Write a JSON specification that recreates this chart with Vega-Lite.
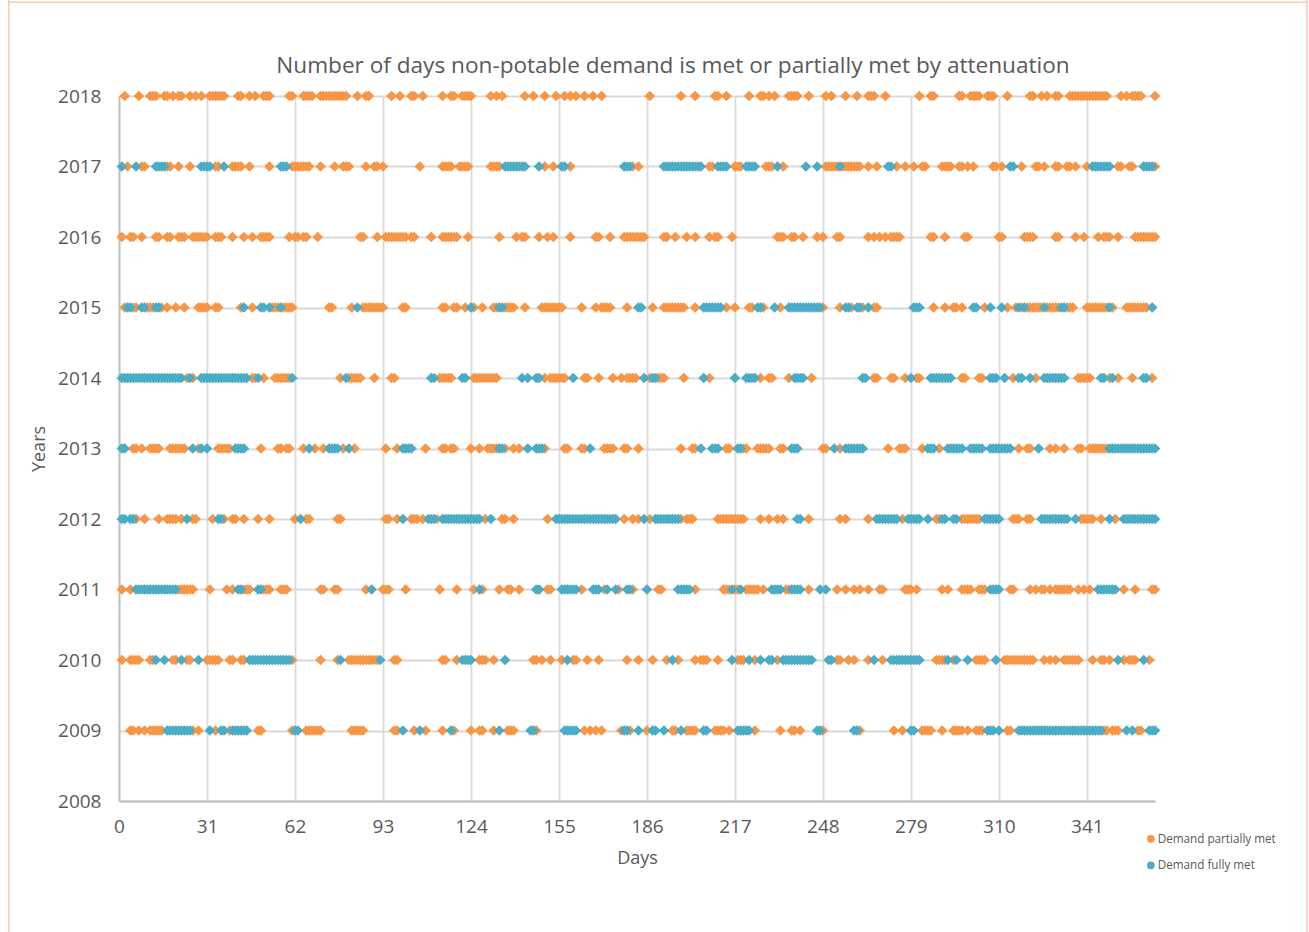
{"$schema":"https://vega.github.io/schema/vega-lite/v6.json","width":1036,"height":705,"autosize":{"type":"none"},"padding":{"left":119,"top":96,"right":154,"bottom":131},"background":"white",
"title":{"text":"Number of days non-potable demand is met or partially met by attenuation","font":"Open Sans","fontSize":22.6,"fontWeight":"normal","color":"#595959","anchor":"middle","frame":"group","dx":36,"offset":-78},
"config":{"view":{"stroke":null}},
"layer":[
{"data":{"values":[
{"d":2,"y":2018,"s":"P"},{"d":7,"y":2018,"s":"P"},{"d":11,"y":2018,"s":"P"},{"d":12,"y":2018,"s":"P"},{"d":13,"y":2018,"s":"P"},{"d":16,"y":2018,"s":"P"},{"d":17,"y":2018,"s":"P"},{"d":19,"y":2018,"s":"P"},{"d":21,"y":2018,"s":"P"},{"d":22,"y":2018,"s":"P"},{"d":25,"y":2018,"s":"P"},{"d":27,"y":2018,"s":"P"},{"d":29,"y":2018,"s":"P"},{"d":32,"y":2018,"s":"P"},{"d":33,"y":2018,"s":"P"},{"d":34,"y":2018,"s":"P"},{"d":35,"y":2018,"s":"P"},{"d":36,"y":2018,"s":"P"},{"d":37,"y":2018,"s":"P"},{"d":42,"y":2018,"s":"P"},{"d":43,"y":2018,"s":"P"},{"d":46,"y":2018,"s":"P"},{"d":48,"y":2018,"s":"P"},{"d":51,"y":2018,"s":"P"},{"d":52,"y":2018,"s":"P"},{"d":53,"y":2018,"s":"P"},{"d":60,"y":2018,"s":"P"},{"d":61,"y":2018,"s":"P"},{"d":65,"y":2018,"s":"P"},{"d":66,"y":2018,"s":"P"},{"d":67,"y":2018,"s":"P"},{"d":68,"y":2018,"s":"P"},{"d":71,"y":2018,"s":"P"},{"d":72,"y":2018,"s":"P"},{"d":73,"y":2018,"s":"P"},{"d":74,"y":2018,"s":"P"},{"d":75,"y":2018,"s":"P"},{"d":76,"y":2018,"s":"P"},{"d":77,"y":2018,"s":"P"},{"d":78,"y":2018,"s":"P"},{"d":79,"y":2018,"s":"P"},{"d":80,"y":2018,"s":"P"},{"d":84,"y":2018,"s":"P"},{"d":87,"y":2018,"s":"P"},{"d":88,"y":2018,"s":"P"},{"d":96,"y":2018,"s":"P"},{"d":99,"y":2018,"s":"P"},{"d":103,"y":2018,"s":"P"},{"d":104,"y":2018,"s":"P"},{"d":107,"y":2018,"s":"P"},{"d":114,"y":2018,"s":"P"},{"d":117,"y":2018,"s":"P"},{"d":118,"y":2018,"s":"P"},{"d":121,"y":2018,"s":"P"},{"d":122,"y":2018,"s":"P"},{"d":123,"y":2018,"s":"P"},{"d":124,"y":2018,"s":"P"},{"d":131,"y":2018,"s":"P"},{"d":133,"y":2018,"s":"P"},{"d":135,"y":2018,"s":"P"},{"d":143,"y":2018,"s":"P"},{"d":146,"y":2018,"s":"P"},{"d":150,"y":2018,"s":"P"},{"d":154,"y":2018,"s":"P"},{"d":157,"y":2018,"s":"P"},{"d":159,"y":2018,"s":"P"},{"d":161,"y":2018,"s":"P"},{"d":164,"y":2018,"s":"P"},{"d":167,"y":2018,"s":"P"},{"d":170,"y":2018,"s":"P"},{"d":187,"y":2018,"s":"P"},{"d":198,"y":2018,"s":"P"},{"d":203,"y":2018,"s":"P"},{"d":210,"y":2018,"s":"P"},{"d":211,"y":2018,"s":"P"},{"d":214,"y":2018,"s":"P"},{"d":222,"y":2018,"s":"P"},{"d":226,"y":2018,"s":"P"},{"d":227,"y":2018,"s":"P"},{"d":229,"y":2018,"s":"P"},{"d":231,"y":2018,"s":"P"},{"d":236,"y":2018,"s":"P"},{"d":237,"y":2018,"s":"P"},{"d":238,"y":2018,"s":"P"},{"d":239,"y":2018,"s":"P"},{"d":243,"y":2018,"s":"P"},{"d":249,"y":2018,"s":"P"},{"d":251,"y":2018,"s":"P"},{"d":256,"y":2018,"s":"P"},{"d":260,"y":2018,"s":"P"},{"d":264,"y":2018,"s":"P"},{"d":265,"y":2018,"s":"P"},{"d":266,"y":2018,"s":"P"},{"d":270,"y":2018,"s":"P"},{"d":282,"y":2018,"s":"P"},{"d":286,"y":2018,"s":"P"},{"d":287,"y":2018,"s":"P"},{"d":296,"y":2018,"s":"P"},{"d":297,"y":2018,"s":"P"},{"d":300,"y":2018,"s":"P"},{"d":301,"y":2018,"s":"P"},{"d":302,"y":2018,"s":"P"},{"d":303,"y":2018,"s":"P"},{"d":306,"y":2018,"s":"P"},{"d":307,"y":2018,"s":"P"},{"d":308,"y":2018,"s":"P"},{"d":313,"y":2018,"s":"P"},{"d":321,"y":2018,"s":"P"},{"d":322,"y":2018,"s":"P"},{"d":325,"y":2018,"s":"P"},{"d":327,"y":2018,"s":"P"},{"d":330,"y":2018,"s":"P"},{"d":331,"y":2018,"s":"P"},{"d":335,"y":2018,"s":"P"},{"d":336,"y":2018,"s":"P"},{"d":337,"y":2018,"s":"P"},{"d":338,"y":2018,"s":"P"},{"d":339,"y":2018,"s":"P"},{"d":340,"y":2018,"s":"P"},{"d":341,"y":2018,"s":"P"},{"d":342,"y":2018,"s":"P"},{"d":343,"y":2018,"s":"P"},{"d":344,"y":2018,"s":"P"},{"d":345,"y":2018,"s":"P"},{"d":346,"y":2018,"s":"P"},{"d":347,"y":2018,"s":"P"},{"d":348,"y":2018,"s":"P"},{"d":353,"y":2018,"s":"P"},{"d":355,"y":2018,"s":"P"},{"d":357,"y":2018,"s":"P"},{"d":358,"y":2018,"s":"P"},{"d":359,"y":2018,"s":"P"},{"d":360,"y":2018,"s":"P"},{"d":365,"y":2018,"s":"P"},
{"d":3,"y":2017,"s":"P"},{"d":8,"y":2017,"s":"P"},{"d":9,"y":2017,"s":"P"},{"d":17,"y":2017,"s":"P"},{"d":18,"y":2017,"s":"P"},{"d":21,"y":2017,"s":"P"},{"d":25,"y":2017,"s":"P"},{"d":34,"y":2017,"s":"P"},{"d":35,"y":2017,"s":"P"},{"d":40,"y":2017,"s":"P"},{"d":41,"y":2017,"s":"P"},{"d":42,"y":2017,"s":"P"},{"d":43,"y":2017,"s":"P"},{"d":46,"y":2017,"s":"P"},{"d":53,"y":2017,"s":"P"},{"d":61,"y":2017,"s":"P"},{"d":62,"y":2017,"s":"P"},{"d":63,"y":2017,"s":"P"},{"d":64,"y":2017,"s":"P"},{"d":65,"y":2017,"s":"P"},{"d":66,"y":2017,"s":"P"},{"d":67,"y":2017,"s":"P"},{"d":71,"y":2017,"s":"P"},{"d":76,"y":2017,"s":"P"},{"d":79,"y":2017,"s":"P"},{"d":80,"y":2017,"s":"P"},{"d":81,"y":2017,"s":"P"},{"d":87,"y":2017,"s":"P"},{"d":90,"y":2017,"s":"P"},{"d":91,"y":2017,"s":"P"},{"d":93,"y":2017,"s":"P"},{"d":106,"y":2017,"s":"P"},{"d":114,"y":2017,"s":"P"},{"d":115,"y":2017,"s":"P"},{"d":116,"y":2017,"s":"P"},{"d":117,"y":2017,"s":"P"},{"d":120,"y":2017,"s":"P"},{"d":121,"y":2017,"s":"P"},{"d":122,"y":2017,"s":"P"},{"d":123,"y":2017,"s":"P"},{"d":131,"y":2017,"s":"P"},{"d":132,"y":2017,"s":"P"},{"d":133,"y":2017,"s":"P"},{"d":134,"y":2017,"s":"P"},{"d":150,"y":2017,"s":"P"},{"d":153,"y":2017,"s":"P"},{"d":159,"y":2017,"s":"P"},{"d":181,"y":2017,"s":"P"},{"d":183,"y":2017,"s":"P"},{"d":208,"y":2017,"s":"P"},{"d":209,"y":2017,"s":"P"},{"d":217,"y":2017,"s":"P"},{"d":218,"y":2017,"s":"P"},{"d":219,"y":2017,"s":"P"},{"d":228,"y":2017,"s":"P"},{"d":229,"y":2017,"s":"P"},{"d":230,"y":2017,"s":"P"},{"d":234,"y":2017,"s":"P"},{"d":249,"y":2017,"s":"P"},{"d":250,"y":2017,"s":"P"},{"d":251,"y":2017,"s":"P"},{"d":252,"y":2017,"s":"P"},{"d":253,"y":2017,"s":"P"},{"d":255,"y":2017,"s":"P"},{"d":256,"y":2017,"s":"P"},{"d":257,"y":2017,"s":"P"},{"d":258,"y":2017,"s":"P"},{"d":259,"y":2017,"s":"P"},{"d":260,"y":2017,"s":"P"},{"d":261,"y":2017,"s":"P"},{"d":264,"y":2017,"s":"P"},{"d":267,"y":2017,"s":"P"},{"d":274,"y":2017,"s":"P"},{"d":277,"y":2017,"s":"P"},{"d":280,"y":2017,"s":"P"},{"d":283,"y":2017,"s":"P"},{"d":284,"y":2017,"s":"P"},{"d":290,"y":2017,"s":"P"},{"d":291,"y":2017,"s":"P"},{"d":292,"y":2017,"s":"P"},{"d":293,"y":2017,"s":"P"},{"d":296,"y":2017,"s":"P"},{"d":297,"y":2017,"s":"P"},{"d":299,"y":2017,"s":"P"},{"d":301,"y":2017,"s":"P"},{"d":308,"y":2017,"s":"P"},{"d":309,"y":2017,"s":"P"},{"d":311,"y":2017,"s":"P"},{"d":318,"y":2017,"s":"P"},{"d":323,"y":2017,"s":"P"},{"d":324,"y":2017,"s":"P"},{"d":326,"y":2017,"s":"P"},{"d":330,"y":2017,"s":"P"},{"d":331,"y":2017,"s":"P"},{"d":334,"y":2017,"s":"P"},{"d":335,"y":2017,"s":"P"},{"d":337,"y":2017,"s":"P"},{"d":341,"y":2017,"s":"P"},{"d":352,"y":2017,"s":"P"},{"d":353,"y":2017,"s":"P"},{"d":356,"y":2017,"s":"P"},{"d":357,"y":2017,"s":"P"},{"d":365,"y":2017,"s":"P"},
{"d":1,"y":2016,"s":"P"},{"d":4,"y":2016,"s":"P"},{"d":5,"y":2016,"s":"P"},{"d":8,"y":2016,"s":"P"},{"d":13,"y":2016,"s":"P"},{"d":14,"y":2016,"s":"P"},{"d":17,"y":2016,"s":"P"},{"d":18,"y":2016,"s":"P"},{"d":21,"y":2016,"s":"P"},{"d":22,"y":2016,"s":"P"},{"d":23,"y":2016,"s":"P"},{"d":26,"y":2016,"s":"P"},{"d":27,"y":2016,"s":"P"},{"d":28,"y":2016,"s":"P"},{"d":29,"y":2016,"s":"P"},{"d":30,"y":2016,"s":"P"},{"d":31,"y":2016,"s":"P"},{"d":34,"y":2016,"s":"P"},{"d":35,"y":2016,"s":"P"},{"d":36,"y":2016,"s":"P"},{"d":40,"y":2016,"s":"P"},{"d":44,"y":2016,"s":"P"},{"d":47,"y":2016,"s":"P"},{"d":50,"y":2016,"s":"P"},{"d":51,"y":2016,"s":"P"},{"d":52,"y":2016,"s":"P"},{"d":53,"y":2016,"s":"P"},{"d":60,"y":2016,"s":"P"},{"d":62,"y":2016,"s":"P"},{"d":63,"y":2016,"s":"P"},{"d":65,"y":2016,"s":"P"},{"d":66,"y":2016,"s":"P"},{"d":70,"y":2016,"s":"P"},{"d":85,"y":2016,"s":"P"},{"d":86,"y":2016,"s":"P"},{"d":91,"y":2016,"s":"P"},{"d":94,"y":2016,"s":"P"},{"d":95,"y":2016,"s":"P"},{"d":96,"y":2016,"s":"P"},{"d":97,"y":2016,"s":"P"},{"d":98,"y":2016,"s":"P"},{"d":99,"y":2016,"s":"P"},{"d":100,"y":2016,"s":"P"},{"d":101,"y":2016,"s":"P"},{"d":103,"y":2016,"s":"P"},{"d":104,"y":2016,"s":"P"},{"d":110,"y":2016,"s":"P"},{"d":114,"y":2016,"s":"P"},{"d":115,"y":2016,"s":"P"},{"d":116,"y":2016,"s":"P"},{"d":117,"y":2016,"s":"P"},{"d":118,"y":2016,"s":"P"},{"d":119,"y":2016,"s":"P"},{"d":123,"y":2016,"s":"P"},{"d":134,"y":2016,"s":"P"},{"d":140,"y":2016,"s":"P"},{"d":142,"y":2016,"s":"P"},{"d":143,"y":2016,"s":"P"},{"d":148,"y":2016,"s":"P"},{"d":151,"y":2016,"s":"P"},{"d":153,"y":2016,"s":"P"},{"d":159,"y":2016,"s":"P"},{"d":168,"y":2016,"s":"P"},{"d":169,"y":2016,"s":"P"},{"d":173,"y":2016,"s":"P"},{"d":178,"y":2016,"s":"P"},{"d":179,"y":2016,"s":"P"},{"d":180,"y":2016,"s":"P"},{"d":181,"y":2016,"s":"P"},{"d":182,"y":2016,"s":"P"},{"d":183,"y":2016,"s":"P"},{"d":184,"y":2016,"s":"P"},{"d":185,"y":2016,"s":"P"},{"d":192,"y":2016,"s":"P"},{"d":193,"y":2016,"s":"P"},{"d":196,"y":2016,"s":"P"},{"d":200,"y":2016,"s":"P"},{"d":203,"y":2016,"s":"P"},{"d":208,"y":2016,"s":"P"},{"d":210,"y":2016,"s":"P"},{"d":211,"y":2016,"s":"P"},{"d":216,"y":2016,"s":"P"},{"d":232,"y":2016,"s":"P"},{"d":233,"y":2016,"s":"P"},{"d":234,"y":2016,"s":"P"},{"d":237,"y":2016,"s":"P"},{"d":238,"y":2016,"s":"P"},{"d":241,"y":2016,"s":"P"},{"d":246,"y":2016,"s":"P"},{"d":248,"y":2016,"s":"P"},{"d":253,"y":2016,"s":"P"},{"d":254,"y":2016,"s":"P"},{"d":264,"y":2016,"s":"P"},{"d":266,"y":2016,"s":"P"},{"d":268,"y":2016,"s":"P"},{"d":270,"y":2016,"s":"P"},{"d":272,"y":2016,"s":"P"},{"d":273,"y":2016,"s":"P"},{"d":274,"y":2016,"s":"P"},{"d":275,"y":2016,"s":"P"},{"d":286,"y":2016,"s":"P"},{"d":287,"y":2016,"s":"P"},{"d":291,"y":2016,"s":"P"},{"d":298,"y":2016,"s":"P"},{"d":299,"y":2016,"s":"P"},{"d":310,"y":2016,"s":"P"},{"d":311,"y":2016,"s":"P"},{"d":319,"y":2016,"s":"P"},{"d":320,"y":2016,"s":"P"},{"d":321,"y":2016,"s":"P"},{"d":322,"y":2016,"s":"P"},{"d":330,"y":2016,"s":"P"},{"d":331,"y":2016,"s":"P"},{"d":337,"y":2016,"s":"P"},{"d":340,"y":2016,"s":"P"},{"d":345,"y":2016,"s":"P"},{"d":347,"y":2016,"s":"P"},{"d":348,"y":2016,"s":"P"},{"d":349,"y":2016,"s":"P"},{"d":352,"y":2016,"s":"P"},{"d":358,"y":2016,"s":"P"},{"d":359,"y":2016,"s":"P"},{"d":360,"y":2016,"s":"P"},{"d":361,"y":2016,"s":"P"},{"d":362,"y":2016,"s":"P"},{"d":363,"y":2016,"s":"P"},{"d":364,"y":2016,"s":"P"},{"d":365,"y":2016,"s":"P"},
{"d":2,"y":2015,"s":"P"},{"d":5,"y":2015,"s":"P"},{"d":6,"y":2015,"s":"P"},{"d":10,"y":2015,"s":"P"},{"d":11,"y":2015,"s":"P"},{"d":12,"y":2015,"s":"P"},{"d":15,"y":2015,"s":"P"},{"d":17,"y":2015,"s":"P"},{"d":20,"y":2015,"s":"P"},{"d":23,"y":2015,"s":"P"},{"d":28,"y":2015,"s":"P"},{"d":29,"y":2015,"s":"P"},{"d":30,"y":2015,"s":"P"},{"d":31,"y":2015,"s":"P"},{"d":34,"y":2015,"s":"P"},{"d":35,"y":2015,"s":"P"},{"d":43,"y":2015,"s":"P"},{"d":47,"y":2015,"s":"P"},{"d":54,"y":2015,"s":"P"},{"d":55,"y":2015,"s":"P"},{"d":56,"y":2015,"s":"P"},{"d":58,"y":2015,"s":"P"},{"d":59,"y":2015,"s":"P"},{"d":60,"y":2015,"s":"P"},{"d":61,"y":2015,"s":"P"},{"d":74,"y":2015,"s":"P"},{"d":75,"y":2015,"s":"P"},{"d":82,"y":2015,"s":"P"},{"d":86,"y":2015,"s":"P"},{"d":87,"y":2015,"s":"P"},{"d":88,"y":2015,"s":"P"},{"d":89,"y":2015,"s":"P"},{"d":90,"y":2015,"s":"P"},{"d":91,"y":2015,"s":"P"},{"d":92,"y":2015,"s":"P"},{"d":93,"y":2015,"s":"P"},{"d":100,"y":2015,"s":"P"},{"d":101,"y":2015,"s":"P"},{"d":114,"y":2015,"s":"P"},{"d":115,"y":2015,"s":"P"},{"d":118,"y":2015,"s":"P"},{"d":119,"y":2015,"s":"P"},{"d":122,"y":2015,"s":"P"},{"d":125,"y":2015,"s":"P"},{"d":128,"y":2015,"s":"P"},{"d":132,"y":2015,"s":"P"},{"d":133,"y":2015,"s":"P"},{"d":136,"y":2015,"s":"P"},{"d":137,"y":2015,"s":"P"},{"d":138,"y":2015,"s":"P"},{"d":139,"y":2015,"s":"P"},{"d":143,"y":2015,"s":"P"},{"d":149,"y":2015,"s":"P"},{"d":150,"y":2015,"s":"P"},{"d":151,"y":2015,"s":"P"},{"d":152,"y":2015,"s":"P"},{"d":153,"y":2015,"s":"P"},{"d":154,"y":2015,"s":"P"},{"d":155,"y":2015,"s":"P"},{"d":156,"y":2015,"s":"P"},{"d":163,"y":2015,"s":"P"},{"d":168,"y":2015,"s":"P"},{"d":170,"y":2015,"s":"P"},{"d":171,"y":2015,"s":"P"},{"d":172,"y":2015,"s":"P"},{"d":173,"y":2015,"s":"P"},{"d":179,"y":2015,"s":"P"},{"d":188,"y":2015,"s":"P"},{"d":192,"y":2015,"s":"P"},{"d":193,"y":2015,"s":"P"},{"d":194,"y":2015,"s":"P"},{"d":195,"y":2015,"s":"P"},{"d":196,"y":2015,"s":"P"},{"d":197,"y":2015,"s":"P"},{"d":198,"y":2015,"s":"P"},{"d":199,"y":2015,"s":"P"},{"d":203,"y":2015,"s":"P"},{"d":214,"y":2015,"s":"P"},{"d":217,"y":2015,"s":"P"},{"d":222,"y":2015,"s":"P"},{"d":223,"y":2015,"s":"P"},{"d":227,"y":2015,"s":"P"},{"d":233,"y":2015,"s":"P"},{"d":248,"y":2015,"s":"P"},{"d":254,"y":2015,"s":"P"},{"d":258,"y":2015,"s":"P"},{"d":262,"y":2015,"s":"P"},{"d":266,"y":2015,"s":"P"},{"d":267,"y":2015,"s":"P"},{"d":287,"y":2015,"s":"P"},{"d":291,"y":2015,"s":"P"},{"d":294,"y":2015,"s":"P"},{"d":295,"y":2015,"s":"P"},{"d":297,"y":2015,"s":"P"},{"d":305,"y":2015,"s":"P"},{"d":313,"y":2015,"s":"P"},{"d":316,"y":2015,"s":"P"},{"d":318,"y":2015,"s":"P"},{"d":320,"y":2015,"s":"P"},{"d":321,"y":2015,"s":"P"},{"d":322,"y":2015,"s":"P"},{"d":323,"y":2015,"s":"P"},{"d":324,"y":2015,"s":"P"},{"d":325,"y":2015,"s":"P"},{"d":327,"y":2015,"s":"P"},{"d":328,"y":2015,"s":"P"},{"d":329,"y":2015,"s":"P"},{"d":330,"y":2015,"s":"P"},{"d":331,"y":2015,"s":"P"},{"d":334,"y":2015,"s":"P"},{"d":335,"y":2015,"s":"P"},{"d":336,"y":2015,"s":"P"},{"d":341,"y":2015,"s":"P"},{"d":342,"y":2015,"s":"P"},{"d":343,"y":2015,"s":"P"},{"d":344,"y":2015,"s":"P"},{"d":345,"y":2015,"s":"P"},{"d":346,"y":2015,"s":"P"},{"d":347,"y":2015,"s":"P"},{"d":348,"y":2015,"s":"P"},{"d":350,"y":2015,"s":"P"},{"d":355,"y":2015,"s":"P"},{"d":356,"y":2015,"s":"P"},{"d":357,"y":2015,"s":"P"},{"d":358,"y":2015,"s":"P"},{"d":359,"y":2015,"s":"P"},{"d":360,"y":2015,"s":"P"},{"d":361,"y":2015,"s":"P"},{"d":362,"y":2015,"s":"P"},
{"d":24,"y":2014,"s":"P"},{"d":26,"y":2014,"s":"P"},{"d":47,"y":2014,"s":"P"},{"d":48,"y":2014,"s":"P"},{"d":51,"y":2014,"s":"P"},{"d":55,"y":2014,"s":"P"},{"d":56,"y":2014,"s":"P"},{"d":57,"y":2014,"s":"P"},{"d":58,"y":2014,"s":"P"},{"d":59,"y":2014,"s":"P"},{"d":60,"y":2014,"s":"P"},{"d":78,"y":2014,"s":"P"},{"d":81,"y":2014,"s":"P"},{"d":82,"y":2014,"s":"P"},{"d":83,"y":2014,"s":"P"},{"d":84,"y":2014,"s":"P"},{"d":85,"y":2014,"s":"P"},{"d":90,"y":2014,"s":"P"},{"d":96,"y":2014,"s":"P"},{"d":97,"y":2014,"s":"P"},{"d":113,"y":2014,"s":"P"},{"d":114,"y":2014,"s":"P"},{"d":115,"y":2014,"s":"P"},{"d":116,"y":2014,"s":"P"},{"d":117,"y":2014,"s":"P"},{"d":125,"y":2014,"s":"P"},{"d":126,"y":2014,"s":"P"},{"d":127,"y":2014,"s":"P"},{"d":128,"y":2014,"s":"P"},{"d":129,"y":2014,"s":"P"},{"d":130,"y":2014,"s":"P"},{"d":131,"y":2014,"s":"P"},{"d":132,"y":2014,"s":"P"},{"d":133,"y":2014,"s":"P"},{"d":150,"y":2014,"s":"P"},{"d":152,"y":2014,"s":"P"},{"d":153,"y":2014,"s":"P"},{"d":154,"y":2014,"s":"P"},{"d":155,"y":2014,"s":"P"},{"d":156,"y":2014,"s":"P"},{"d":157,"y":2014,"s":"P"},{"d":164,"y":2014,"s":"P"},{"d":165,"y":2014,"s":"P"},{"d":169,"y":2014,"s":"P"},{"d":174,"y":2014,"s":"P"},{"d":177,"y":2014,"s":"P"},{"d":179,"y":2014,"s":"P"},{"d":180,"y":2014,"s":"P"},{"d":181,"y":2014,"s":"P"},{"d":182,"y":2014,"s":"P"},{"d":187,"y":2014,"s":"P"},{"d":190,"y":2014,"s":"P"},{"d":191,"y":2014,"s":"P"},{"d":192,"y":2014,"s":"P"},{"d":199,"y":2014,"s":"P"},{"d":208,"y":2014,"s":"P"},{"d":226,"y":2014,"s":"P"},{"d":229,"y":2014,"s":"P"},{"d":230,"y":2014,"s":"P"},{"d":236,"y":2014,"s":"P"},{"d":244,"y":2014,"s":"P"},{"d":266,"y":2014,"s":"P"},{"d":267,"y":2014,"s":"P"},{"d":272,"y":2014,"s":"P"},{"d":273,"y":2014,"s":"P"},{"d":277,"y":2014,"s":"P"},{"d":281,"y":2014,"s":"P"},{"d":282,"y":2014,"s":"P"},{"d":297,"y":2014,"s":"P"},{"d":298,"y":2014,"s":"P"},{"d":303,"y":2014,"s":"P"},{"d":304,"y":2014,"s":"P"},{"d":315,"y":2014,"s":"P"},{"d":323,"y":2014,"s":"P"},{"d":338,"y":2014,"s":"P"},{"d":339,"y":2014,"s":"P"},{"d":340,"y":2014,"s":"P"},{"d":341,"y":2014,"s":"P"},{"d":342,"y":2014,"s":"P"},{"d":349,"y":2014,"s":"P"},{"d":352,"y":2014,"s":"P"},{"d":357,"y":2014,"s":"P"},{"d":364,"y":2014,"s":"P"},
{"d":5,"y":2013,"s":"P"},{"d":6,"y":2013,"s":"P"},{"d":8,"y":2013,"s":"P"},{"d":11,"y":2013,"s":"P"},{"d":12,"y":2013,"s":"P"},{"d":13,"y":2013,"s":"P"},{"d":14,"y":2013,"s":"P"},{"d":18,"y":2013,"s":"P"},{"d":19,"y":2013,"s":"P"},{"d":20,"y":2013,"s":"P"},{"d":21,"y":2013,"s":"P"},{"d":22,"y":2013,"s":"P"},{"d":23,"y":2013,"s":"P"},{"d":28,"y":2013,"s":"P"},{"d":35,"y":2013,"s":"P"},{"d":36,"y":2013,"s":"P"},{"d":37,"y":2013,"s":"P"},{"d":38,"y":2013,"s":"P"},{"d":39,"y":2013,"s":"P"},{"d":50,"y":2013,"s":"P"},{"d":56,"y":2013,"s":"P"},{"d":57,"y":2013,"s":"P"},{"d":59,"y":2013,"s":"P"},{"d":60,"y":2013,"s":"P"},{"d":65,"y":2013,"s":"P"},{"d":69,"y":2013,"s":"P"},{"d":72,"y":2013,"s":"P"},{"d":79,"y":2013,"s":"P"},{"d":83,"y":2013,"s":"P"},{"d":94,"y":2013,"s":"P"},{"d":98,"y":2013,"s":"P"},{"d":108,"y":2013,"s":"P"},{"d":114,"y":2013,"s":"P"},{"d":115,"y":2013,"s":"P"},{"d":117,"y":2013,"s":"P"},{"d":118,"y":2013,"s":"P"},{"d":124,"y":2013,"s":"P"},{"d":127,"y":2013,"s":"P"},{"d":130,"y":2013,"s":"P"},{"d":131,"y":2013,"s":"P"},{"d":132,"y":2013,"s":"P"},{"d":133,"y":2013,"s":"P"},{"d":136,"y":2013,"s":"P"},{"d":139,"y":2013,"s":"P"},{"d":141,"y":2013,"s":"P"},{"d":150,"y":2013,"s":"P"},{"d":157,"y":2013,"s":"P"},{"d":158,"y":2013,"s":"P"},{"d":163,"y":2013,"s":"P"},{"d":164,"y":2013,"s":"P"},{"d":171,"y":2013,"s":"P"},{"d":172,"y":2013,"s":"P"},{"d":173,"y":2013,"s":"P"},{"d":174,"y":2013,"s":"P"},{"d":178,"y":2013,"s":"P"},{"d":179,"y":2013,"s":"P"},{"d":183,"y":2013,"s":"P"},{"d":198,"y":2013,"s":"P"},{"d":202,"y":2013,"s":"P"},{"d":203,"y":2013,"s":"P"},{"d":214,"y":2013,"s":"P"},{"d":215,"y":2013,"s":"P"},{"d":220,"y":2013,"s":"P"},{"d":221,"y":2013,"s":"P"},{"d":225,"y":2013,"s":"P"},{"d":226,"y":2013,"s":"P"},{"d":227,"y":2013,"s":"P"},{"d":228,"y":2013,"s":"P"},{"d":229,"y":2013,"s":"P"},{"d":233,"y":2013,"s":"P"},{"d":234,"y":2013,"s":"P"},{"d":248,"y":2013,"s":"P"},{"d":249,"y":2013,"s":"P"},{"d":254,"y":2013,"s":"P"},{"d":271,"y":2013,"s":"P"},{"d":275,"y":2013,"s":"P"},{"d":276,"y":2013,"s":"P"},{"d":277,"y":2013,"s":"P"},{"d":283,"y":2013,"s":"P"},{"d":289,"y":2013,"s":"P"},{"d":317,"y":2013,"s":"P"},{"d":320,"y":2013,"s":"P"},{"d":321,"y":2013,"s":"P"},{"d":328,"y":2013,"s":"P"},{"d":330,"y":2013,"s":"P"},{"d":333,"y":2013,"s":"P"},{"d":338,"y":2013,"s":"P"},{"d":339,"y":2013,"s":"P"},{"d":342,"y":2013,"s":"P"},{"d":343,"y":2013,"s":"P"},{"d":344,"y":2013,"s":"P"},{"d":345,"y":2013,"s":"P"},{"d":346,"y":2013,"s":"P"},{"d":347,"y":2013,"s":"P"},{"d":348,"y":2013,"s":"P"},
{"d":6,"y":2012,"s":"P"},{"d":9,"y":2012,"s":"P"},{"d":14,"y":2012,"s":"P"},{"d":17,"y":2012,"s":"P"},{"d":18,"y":2012,"s":"P"},{"d":19,"y":2012,"s":"P"},{"d":20,"y":2012,"s":"P"},{"d":22,"y":2012,"s":"P"},{"d":26,"y":2012,"s":"P"},{"d":27,"y":2012,"s":"P"},{"d":33,"y":2012,"s":"P"},{"d":37,"y":2012,"s":"P"},{"d":40,"y":2012,"s":"P"},{"d":41,"y":2012,"s":"P"},{"d":44,"y":2012,"s":"P"},{"d":49,"y":2012,"s":"P"},{"d":53,"y":2012,"s":"P"},{"d":62,"y":2012,"s":"P"},{"d":66,"y":2012,"s":"P"},{"d":67,"y":2012,"s":"P"},{"d":77,"y":2012,"s":"P"},{"d":78,"y":2012,"s":"P"},{"d":94,"y":2012,"s":"P"},{"d":95,"y":2012,"s":"P"},{"d":98,"y":2012,"s":"P"},{"d":103,"y":2012,"s":"P"},{"d":104,"y":2012,"s":"P"},{"d":105,"y":2012,"s":"P"},{"d":107,"y":2012,"s":"P"},{"d":112,"y":2012,"s":"P"},{"d":129,"y":2012,"s":"P"},{"d":135,"y":2012,"s":"P"},{"d":136,"y":2012,"s":"P"},{"d":139,"y":2012,"s":"P"},{"d":151,"y":2012,"s":"P"},{"d":178,"y":2012,"s":"P"},{"d":181,"y":2012,"s":"P"},{"d":183,"y":2012,"s":"P"},{"d":187,"y":2012,"s":"P"},{"d":198,"y":2012,"s":"P"},{"d":200,"y":2012,"s":"P"},{"d":201,"y":2012,"s":"P"},{"d":202,"y":2012,"s":"P"},{"d":211,"y":2012,"s":"P"},{"d":212,"y":2012,"s":"P"},{"d":213,"y":2012,"s":"P"},{"d":214,"y":2012,"s":"P"},{"d":215,"y":2012,"s":"P"},{"d":216,"y":2012,"s":"P"},{"d":217,"y":2012,"s":"P"},{"d":218,"y":2012,"s":"P"},{"d":219,"y":2012,"s":"P"},{"d":220,"y":2012,"s":"P"},{"d":226,"y":2012,"s":"P"},{"d":229,"y":2012,"s":"P"},{"d":232,"y":2012,"s":"P"},{"d":234,"y":2012,"s":"P"},{"d":243,"y":2012,"s":"P"},{"d":254,"y":2012,"s":"P"},{"d":256,"y":2012,"s":"P"},{"d":264,"y":2012,"s":"P"},{"d":276,"y":2012,"s":"P"},{"d":288,"y":2012,"s":"P"},{"d":289,"y":2012,"s":"P"},{"d":297,"y":2012,"s":"P"},{"d":298,"y":2012,"s":"P"},{"d":299,"y":2012,"s":"P"},{"d":300,"y":2012,"s":"P"},{"d":301,"y":2012,"s":"P"},{"d":302,"y":2012,"s":"P"},{"d":303,"y":2012,"s":"P"},{"d":315,"y":2012,"s":"P"},{"d":316,"y":2012,"s":"P"},{"d":317,"y":2012,"s":"P"},{"d":320,"y":2012,"s":"P"},{"d":321,"y":2012,"s":"P"},{"d":339,"y":2012,"s":"P"},{"d":340,"y":2012,"s":"P"},{"d":341,"y":2012,"s":"P"},{"d":342,"y":2012,"s":"P"},{"d":343,"y":2012,"s":"P"},{"d":346,"y":2012,"s":"P"},{"d":351,"y":2012,"s":"P"},
{"d":1,"y":2011,"s":"P"},{"d":4,"y":2011,"s":"P"},{"d":21,"y":2011,"s":"P"},{"d":22,"y":2011,"s":"P"},{"d":23,"y":2011,"s":"P"},{"d":24,"y":2011,"s":"P"},{"d":25,"y":2011,"s":"P"},{"d":26,"y":2011,"s":"P"},{"d":32,"y":2011,"s":"P"},{"d":38,"y":2011,"s":"P"},{"d":40,"y":2011,"s":"P"},{"d":44,"y":2011,"s":"P"},{"d":45,"y":2011,"s":"P"},{"d":46,"y":2011,"s":"P"},{"d":51,"y":2011,"s":"P"},{"d":52,"y":2011,"s":"P"},{"d":53,"y":2011,"s":"P"},{"d":57,"y":2011,"s":"P"},{"d":58,"y":2011,"s":"P"},{"d":59,"y":2011,"s":"P"},{"d":71,"y":2011,"s":"P"},{"d":72,"y":2011,"s":"P"},{"d":76,"y":2011,"s":"P"},{"d":77,"y":2011,"s":"P"},{"d":87,"y":2011,"s":"P"},{"d":93,"y":2011,"s":"P"},{"d":94,"y":2011,"s":"P"},{"d":95,"y":2011,"s":"P"},{"d":101,"y":2011,"s":"P"},{"d":113,"y":2011,"s":"P"},{"d":119,"y":2011,"s":"P"},{"d":125,"y":2011,"s":"P"},{"d":128,"y":2011,"s":"P"},{"d":134,"y":2011,"s":"P"},{"d":137,"y":2011,"s":"P"},{"d":138,"y":2011,"s":"P"},{"d":141,"y":2011,"s":"P"},{"d":151,"y":2011,"s":"P"},{"d":152,"y":2011,"s":"P"},{"d":163,"y":2011,"s":"P"},{"d":171,"y":2011,"s":"P"},{"d":176,"y":2011,"s":"P"},{"d":181,"y":2011,"s":"P"},{"d":190,"y":2011,"s":"P"},{"d":191,"y":2011,"s":"P"},{"d":203,"y":2011,"s":"P"},{"d":213,"y":2011,"s":"P"},{"d":214,"y":2011,"s":"P"},{"d":215,"y":2011,"s":"P"},{"d":217,"y":2011,"s":"P"},{"d":218,"y":2011,"s":"P"},{"d":221,"y":2011,"s":"P"},{"d":222,"y":2011,"s":"P"},{"d":223,"y":2011,"s":"P"},{"d":224,"y":2011,"s":"P"},{"d":225,"y":2011,"s":"P"},{"d":227,"y":2011,"s":"P"},{"d":235,"y":2011,"s":"P"},{"d":236,"y":2011,"s":"P"},{"d":243,"y":2011,"s":"P"},{"d":253,"y":2011,"s":"P"},{"d":256,"y":2011,"s":"P"},{"d":259,"y":2011,"s":"P"},{"d":261,"y":2011,"s":"P"},{"d":264,"y":2011,"s":"P"},{"d":268,"y":2011,"s":"P"},{"d":269,"y":2011,"s":"P"},{"d":277,"y":2011,"s":"P"},{"d":278,"y":2011,"s":"P"},{"d":279,"y":2011,"s":"P"},{"d":281,"y":2011,"s":"P"},{"d":290,"y":2011,"s":"P"},{"d":292,"y":2011,"s":"P"},{"d":297,"y":2011,"s":"P"},{"d":298,"y":2011,"s":"P"},{"d":299,"y":2011,"s":"P"},{"d":300,"y":2011,"s":"P"},{"d":303,"y":2011,"s":"P"},{"d":304,"y":2011,"s":"P"},{"d":305,"y":2011,"s":"P"},{"d":314,"y":2011,"s":"P"},{"d":315,"y":2011,"s":"P"},{"d":321,"y":2011,"s":"P"},{"d":323,"y":2011,"s":"P"},{"d":325,"y":2011,"s":"P"},{"d":326,"y":2011,"s":"P"},{"d":328,"y":2011,"s":"P"},{"d":330,"y":2011,"s":"P"},{"d":331,"y":2011,"s":"P"},{"d":332,"y":2011,"s":"P"},{"d":333,"y":2011,"s":"P"},{"d":334,"y":2011,"s":"P"},{"d":335,"y":2011,"s":"P"},{"d":338,"y":2011,"s":"P"},{"d":340,"y":2011,"s":"P"},{"d":342,"y":2011,"s":"P"},{"d":354,"y":2011,"s":"P"},{"d":358,"y":2011,"s":"P"},{"d":364,"y":2011,"s":"P"},{"d":365,"y":2011,"s":"P"},
{"d":1,"y":2010,"s":"P"},{"d":4,"y":2010,"s":"P"},{"d":5,"y":2010,"s":"P"},{"d":6,"y":2010,"s":"P"},{"d":7,"y":2010,"s":"P"},{"d":11,"y":2010,"s":"P"},{"d":12,"y":2010,"s":"P"},{"d":19,"y":2010,"s":"P"},{"d":20,"y":2010,"s":"P"},{"d":24,"y":2010,"s":"P"},{"d":25,"y":2010,"s":"P"},{"d":31,"y":2010,"s":"P"},{"d":32,"y":2010,"s":"P"},{"d":33,"y":2010,"s":"P"},{"d":34,"y":2010,"s":"P"},{"d":35,"y":2010,"s":"P"},{"d":39,"y":2010,"s":"P"},{"d":40,"y":2010,"s":"P"},{"d":43,"y":2010,"s":"P"},{"d":44,"y":2010,"s":"P"},{"d":61,"y":2010,"s":"P"},{"d":71,"y":2010,"s":"P"},{"d":77,"y":2010,"s":"P"},{"d":81,"y":2010,"s":"P"},{"d":82,"y":2010,"s":"P"},{"d":83,"y":2010,"s":"P"},{"d":84,"y":2010,"s":"P"},{"d":85,"y":2010,"s":"P"},{"d":86,"y":2010,"s":"P"},{"d":87,"y":2010,"s":"P"},{"d":88,"y":2010,"s":"P"},{"d":89,"y":2010,"s":"P"},{"d":90,"y":2010,"s":"P"},{"d":91,"y":2010,"s":"P"},{"d":97,"y":2010,"s":"P"},{"d":98,"y":2010,"s":"P"},{"d":114,"y":2010,"s":"P"},{"d":115,"y":2010,"s":"P"},{"d":119,"y":2010,"s":"P"},{"d":127,"y":2010,"s":"P"},{"d":128,"y":2010,"s":"P"},{"d":129,"y":2010,"s":"P"},{"d":132,"y":2010,"s":"P"},{"d":146,"y":2010,"s":"P"},{"d":147,"y":2010,"s":"P"},{"d":149,"y":2010,"s":"P"},{"d":152,"y":2010,"s":"P"},{"d":156,"y":2010,"s":"P"},{"d":160,"y":2010,"s":"P"},{"d":161,"y":2010,"s":"P"},{"d":165,"y":2010,"s":"P"},{"d":169,"y":2010,"s":"P"},{"d":179,"y":2010,"s":"P"},{"d":183,"y":2010,"s":"P"},{"d":188,"y":2010,"s":"P"},{"d":193,"y":2010,"s":"P"},{"d":197,"y":2010,"s":"P"},{"d":203,"y":2010,"s":"P"},{"d":205,"y":2010,"s":"P"},{"d":206,"y":2010,"s":"P"},{"d":207,"y":2010,"s":"P"},{"d":211,"y":2010,"s":"P"},{"d":218,"y":2010,"s":"P"},{"d":219,"y":2010,"s":"P"},{"d":220,"y":2010,"s":"P"},{"d":224,"y":2010,"s":"P"},{"d":232,"y":2010,"s":"P"},{"d":253,"y":2010,"s":"P"},{"d":254,"y":2010,"s":"P"},{"d":257,"y":2010,"s":"P"},{"d":259,"y":2010,"s":"P"},{"d":264,"y":2010,"s":"P"},{"d":269,"y":2010,"s":"P"},{"d":288,"y":2010,"s":"P"},{"d":289,"y":2010,"s":"P"},{"d":290,"y":2010,"s":"P"},{"d":291,"y":2010,"s":"P"},{"d":294,"y":2010,"s":"P"},{"d":302,"y":2010,"s":"P"},{"d":303,"y":2010,"s":"P"},{"d":304,"y":2010,"s":"P"},{"d":305,"y":2010,"s":"P"},{"d":312,"y":2010,"s":"P"},{"d":313,"y":2010,"s":"P"},{"d":314,"y":2010,"s":"P"},{"d":315,"y":2010,"s":"P"},{"d":316,"y":2010,"s":"P"},{"d":317,"y":2010,"s":"P"},{"d":318,"y":2010,"s":"P"},{"d":319,"y":2010,"s":"P"},{"d":320,"y":2010,"s":"P"},{"d":321,"y":2010,"s":"P"},{"d":322,"y":2010,"s":"P"},{"d":326,"y":2010,"s":"P"},{"d":328,"y":2010,"s":"P"},{"d":330,"y":2010,"s":"P"},{"d":333,"y":2010,"s":"P"},{"d":334,"y":2010,"s":"P"},{"d":335,"y":2010,"s":"P"},{"d":336,"y":2010,"s":"P"},{"d":337,"y":2010,"s":"P"},{"d":338,"y":2010,"s":"P"},{"d":343,"y":2010,"s":"P"},{"d":346,"y":2010,"s":"P"},{"d":347,"y":2010,"s":"P"},{"d":349,"y":2010,"s":"P"},{"d":354,"y":2010,"s":"P"},{"d":356,"y":2010,"s":"P"},{"d":357,"y":2010,"s":"P"},{"d":358,"y":2010,"s":"P"},{"d":363,"y":2010,"s":"P"},
{"d":4,"y":2009,"s":"P"},{"d":5,"y":2009,"s":"P"},{"d":7,"y":2009,"s":"P"},{"d":9,"y":2009,"s":"P"},{"d":11,"y":2009,"s":"P"},{"d":12,"y":2009,"s":"P"},{"d":13,"y":2009,"s":"P"},{"d":14,"y":2009,"s":"P"},{"d":15,"y":2009,"s":"P"},{"d":26,"y":2009,"s":"P"},{"d":28,"y":2009,"s":"P"},{"d":34,"y":2009,"s":"P"},{"d":39,"y":2009,"s":"P"},{"d":49,"y":2009,"s":"P"},{"d":50,"y":2009,"s":"P"},{"d":61,"y":2009,"s":"P"},{"d":66,"y":2009,"s":"P"},{"d":67,"y":2009,"s":"P"},{"d":68,"y":2009,"s":"P"},{"d":69,"y":2009,"s":"P"},{"d":70,"y":2009,"s":"P"},{"d":71,"y":2009,"s":"P"},{"d":82,"y":2009,"s":"P"},{"d":83,"y":2009,"s":"P"},{"d":84,"y":2009,"s":"P"},{"d":85,"y":2009,"s":"P"},{"d":86,"y":2009,"s":"P"},{"d":97,"y":2009,"s":"P"},{"d":98,"y":2009,"s":"P"},{"d":104,"y":2009,"s":"P"},{"d":108,"y":2009,"s":"P"},{"d":114,"y":2009,"s":"P"},{"d":118,"y":2009,"s":"P"},{"d":124,"y":2009,"s":"P"},{"d":127,"y":2009,"s":"P"},{"d":128,"y":2009,"s":"P"},{"d":132,"y":2009,"s":"P"},{"d":137,"y":2009,"s":"P"},{"d":138,"y":2009,"s":"P"},{"d":139,"y":2009,"s":"P"},{"d":147,"y":2009,"s":"P"},{"d":164,"y":2009,"s":"P"},{"d":166,"y":2009,"s":"P"},{"d":168,"y":2009,"s":"P"},{"d":170,"y":2009,"s":"P"},{"d":177,"y":2009,"s":"P"},{"d":180,"y":2009,"s":"P"},{"d":186,"y":2009,"s":"P"},{"d":195,"y":2009,"s":"P"},{"d":196,"y":2009,"s":"P"},{"d":200,"y":2009,"s":"P"},{"d":201,"y":2009,"s":"P"},{"d":202,"y":2009,"s":"P"},{"d":203,"y":2009,"s":"P"},{"d":210,"y":2009,"s":"P"},{"d":211,"y":2009,"s":"P"},{"d":212,"y":2009,"s":"P"},{"d":213,"y":2009,"s":"P"},{"d":215,"y":2009,"s":"P"},{"d":224,"y":2009,"s":"P"},{"d":233,"y":2009,"s":"P"},{"d":237,"y":2009,"s":"P"},{"d":238,"y":2009,"s":"P"},{"d":240,"y":2009,"s":"P"},{"d":248,"y":2009,"s":"P"},{"d":261,"y":2009,"s":"P"},{"d":273,"y":2009,"s":"P"},{"d":276,"y":2009,"s":"P"},{"d":283,"y":2009,"s":"P"},{"d":284,"y":2009,"s":"P"},{"d":285,"y":2009,"s":"P"},{"d":286,"y":2009,"s":"P"},{"d":290,"y":2009,"s":"P"},{"d":294,"y":2009,"s":"P"},{"d":295,"y":2009,"s":"P"},{"d":296,"y":2009,"s":"P"},{"d":297,"y":2009,"s":"P"},{"d":299,"y":2009,"s":"P"},{"d":302,"y":2009,"s":"P"},{"d":303,"y":2009,"s":"P"},{"d":304,"y":2009,"s":"P"},{"d":313,"y":2009,"s":"P"},{"d":314,"y":2009,"s":"P"},{"d":347,"y":2009,"s":"P"},{"d":348,"y":2009,"s":"P"},{"d":350,"y":2009,"s":"P"},{"d":351,"y":2009,"s":"P"},{"d":352,"y":2009,"s":"P"},{"d":359,"y":2009,"s":"P"},{"d":360,"y":2009,"s":"P"},
{"d":1,"y":2017,"s":"F"},{"d":6,"y":2017,"s":"F"},{"d":13,"y":2017,"s":"F"},{"d":14,"y":2017,"s":"F"},{"d":15,"y":2017,"s":"F"},{"d":16,"y":2017,"s":"F"},{"d":29,"y":2017,"s":"F"},{"d":30,"y":2017,"s":"F"},{"d":31,"y":2017,"s":"F"},{"d":32,"y":2017,"s":"F"},{"d":37,"y":2017,"s":"F"},{"d":57,"y":2017,"s":"F"},{"d":58,"y":2017,"s":"F"},{"d":59,"y":2017,"s":"F"},{"d":136,"y":2017,"s":"F"},{"d":137,"y":2017,"s":"F"},{"d":138,"y":2017,"s":"F"},{"d":139,"y":2017,"s":"F"},{"d":140,"y":2017,"s":"F"},{"d":141,"y":2017,"s":"F"},{"d":142,"y":2017,"s":"F"},{"d":143,"y":2017,"s":"F"},{"d":148,"y":2017,"s":"F"},{"d":156,"y":2017,"s":"F"},{"d":157,"y":2017,"s":"F"},{"d":178,"y":2017,"s":"F"},{"d":179,"y":2017,"s":"F"},{"d":180,"y":2017,"s":"F"},{"d":192,"y":2017,"s":"F"},{"d":193,"y":2017,"s":"F"},{"d":194,"y":2017,"s":"F"},{"d":195,"y":2017,"s":"F"},{"d":196,"y":2017,"s":"F"},{"d":197,"y":2017,"s":"F"},{"d":198,"y":2017,"s":"F"},{"d":199,"y":2017,"s":"F"},{"d":200,"y":2017,"s":"F"},{"d":201,"y":2017,"s":"F"},{"d":202,"y":2017,"s":"F"},{"d":203,"y":2017,"s":"F"},{"d":204,"y":2017,"s":"F"},{"d":205,"y":2017,"s":"F"},{"d":211,"y":2017,"s":"F"},{"d":212,"y":2017,"s":"F"},{"d":213,"y":2017,"s":"F"},{"d":214,"y":2017,"s":"F"},{"d":221,"y":2017,"s":"F"},{"d":222,"y":2017,"s":"F"},{"d":223,"y":2017,"s":"F"},{"d":224,"y":2017,"s":"F"},{"d":232,"y":2017,"s":"F"},{"d":242,"y":2017,"s":"F"},{"d":246,"y":2017,"s":"F"},{"d":254,"y":2017,"s":"F"},{"d":271,"y":2017,"s":"F"},{"d":272,"y":2017,"s":"F"},{"d":314,"y":2017,"s":"F"},{"d":315,"y":2017,"s":"F"},{"d":343,"y":2017,"s":"F"},{"d":344,"y":2017,"s":"F"},{"d":345,"y":2017,"s":"F"},{"d":346,"y":2017,"s":"F"},{"d":347,"y":2017,"s":"F"},{"d":348,"y":2017,"s":"F"},{"d":349,"y":2017,"s":"F"},{"d":361,"y":2017,"s":"F"},{"d":362,"y":2017,"s":"F"},{"d":363,"y":2017,"s":"F"},{"d":364,"y":2017,"s":"F"},
{"d":3,"y":2015,"s":"F"},{"d":4,"y":2015,"s":"F"},{"d":8,"y":2015,"s":"F"},{"d":9,"y":2015,"s":"F"},{"d":13,"y":2015,"s":"F"},{"d":14,"y":2015,"s":"F"},{"d":44,"y":2015,"s":"F"},{"d":50,"y":2015,"s":"F"},{"d":51,"y":2015,"s":"F"},{"d":53,"y":2015,"s":"F"},{"d":57,"y":2015,"s":"F"},{"d":84,"y":2015,"s":"F"},{"d":124,"y":2015,"s":"F"},{"d":134,"y":2015,"s":"F"},{"d":135,"y":2015,"s":"F"},{"d":183,"y":2015,"s":"F"},{"d":184,"y":2015,"s":"F"},{"d":206,"y":2015,"s":"F"},{"d":207,"y":2015,"s":"F"},{"d":208,"y":2015,"s":"F"},{"d":209,"y":2015,"s":"F"},{"d":210,"y":2015,"s":"F"},{"d":211,"y":2015,"s":"F"},{"d":212,"y":2015,"s":"F"},{"d":225,"y":2015,"s":"F"},{"d":226,"y":2015,"s":"F"},{"d":231,"y":2015,"s":"F"},{"d":236,"y":2015,"s":"F"},{"d":237,"y":2015,"s":"F"},{"d":238,"y":2015,"s":"F"},{"d":239,"y":2015,"s":"F"},{"d":240,"y":2015,"s":"F"},{"d":241,"y":2015,"s":"F"},{"d":242,"y":2015,"s":"F"},{"d":243,"y":2015,"s":"F"},{"d":244,"y":2015,"s":"F"},{"d":245,"y":2015,"s":"F"},{"d":246,"y":2015,"s":"F"},{"d":247,"y":2015,"s":"F"},{"d":256,"y":2015,"s":"F"},{"d":257,"y":2015,"s":"F"},{"d":260,"y":2015,"s":"F"},{"d":261,"y":2015,"s":"F"},{"d":264,"y":2015,"s":"F"},{"d":280,"y":2015,"s":"F"},{"d":281,"y":2015,"s":"F"},{"d":282,"y":2015,"s":"F"},{"d":301,"y":2015,"s":"F"},{"d":302,"y":2015,"s":"F"},{"d":307,"y":2015,"s":"F"},{"d":311,"y":2015,"s":"F"},{"d":317,"y":2015,"s":"F"},{"d":319,"y":2015,"s":"F"},{"d":326,"y":2015,"s":"F"},{"d":332,"y":2015,"s":"F"},{"d":333,"y":2015,"s":"F"},{"d":349,"y":2015,"s":"F"},{"d":364,"y":2015,"s":"F"},
{"d":1,"y":2014,"s":"F"},{"d":2,"y":2014,"s":"F"},{"d":3,"y":2014,"s":"F"},{"d":4,"y":2014,"s":"F"},{"d":5,"y":2014,"s":"F"},{"d":6,"y":2014,"s":"F"},{"d":7,"y":2014,"s":"F"},{"d":8,"y":2014,"s":"F"},{"d":9,"y":2014,"s":"F"},{"d":10,"y":2014,"s":"F"},{"d":11,"y":2014,"s":"F"},{"d":12,"y":2014,"s":"F"},{"d":13,"y":2014,"s":"F"},{"d":14,"y":2014,"s":"F"},{"d":15,"y":2014,"s":"F"},{"d":16,"y":2014,"s":"F"},{"d":17,"y":2014,"s":"F"},{"d":18,"y":2014,"s":"F"},{"d":19,"y":2014,"s":"F"},{"d":20,"y":2014,"s":"F"},{"d":21,"y":2014,"s":"F"},{"d":22,"y":2014,"s":"F"},{"d":25,"y":2014,"s":"F"},{"d":29,"y":2014,"s":"F"},{"d":30,"y":2014,"s":"F"},{"d":31,"y":2014,"s":"F"},{"d":32,"y":2014,"s":"F"},{"d":33,"y":2014,"s":"F"},{"d":34,"y":2014,"s":"F"},{"d":35,"y":2014,"s":"F"},{"d":36,"y":2014,"s":"F"},{"d":37,"y":2014,"s":"F"},{"d":38,"y":2014,"s":"F"},{"d":39,"y":2014,"s":"F"},{"d":40,"y":2014,"s":"F"},{"d":41,"y":2014,"s":"F"},{"d":42,"y":2014,"s":"F"},{"d":43,"y":2014,"s":"F"},{"d":44,"y":2014,"s":"F"},{"d":45,"y":2014,"s":"F"},{"d":49,"y":2014,"s":"F"},{"d":61,"y":2014,"s":"F"},{"d":80,"y":2014,"s":"F"},{"d":110,"y":2014,"s":"F"},{"d":111,"y":2014,"s":"F"},{"d":121,"y":2014,"s":"F"},{"d":122,"y":2014,"s":"F"},{"d":142,"y":2014,"s":"F"},{"d":144,"y":2014,"s":"F"},{"d":147,"y":2014,"s":"F"},{"d":148,"y":2014,"s":"F"},{"d":160,"y":2014,"s":"F"},{"d":185,"y":2014,"s":"F"},{"d":188,"y":2014,"s":"F"},{"d":189,"y":2014,"s":"F"},{"d":206,"y":2014,"s":"F"},{"d":217,"y":2014,"s":"F"},{"d":221,"y":2014,"s":"F"},{"d":222,"y":2014,"s":"F"},{"d":223,"y":2014,"s":"F"},{"d":224,"y":2014,"s":"F"},{"d":238,"y":2014,"s":"F"},{"d":239,"y":2014,"s":"F"},{"d":240,"y":2014,"s":"F"},{"d":241,"y":2014,"s":"F"},{"d":262,"y":2014,"s":"F"},{"d":263,"y":2014,"s":"F"},{"d":279,"y":2014,"s":"F"},{"d":286,"y":2014,"s":"F"},{"d":287,"y":2014,"s":"F"},{"d":288,"y":2014,"s":"F"},{"d":289,"y":2014,"s":"F"},{"d":290,"y":2014,"s":"F"},{"d":291,"y":2014,"s":"F"},{"d":292,"y":2014,"s":"F"},{"d":293,"y":2014,"s":"F"},{"d":307,"y":2014,"s":"F"},{"d":308,"y":2014,"s":"F"},{"d":309,"y":2014,"s":"F"},{"d":312,"y":2014,"s":"F"},{"d":317,"y":2014,"s":"F"},{"d":318,"y":2014,"s":"F"},{"d":321,"y":2014,"s":"F"},{"d":326,"y":2014,"s":"F"},{"d":327,"y":2014,"s":"F"},{"d":328,"y":2014,"s":"F"},{"d":329,"y":2014,"s":"F"},{"d":330,"y":2014,"s":"F"},{"d":331,"y":2014,"s":"F"},{"d":332,"y":2014,"s":"F"},{"d":333,"y":2014,"s":"F"},{"d":346,"y":2014,"s":"F"},{"d":347,"y":2014,"s":"F"},{"d":350,"y":2014,"s":"F"},{"d":361,"y":2014,"s":"F"},{"d":362,"y":2014,"s":"F"},
{"d":1,"y":2013,"s":"F"},{"d":2,"y":2013,"s":"F"},{"d":26,"y":2013,"s":"F"},{"d":29,"y":2013,"s":"F"},{"d":31,"y":2013,"s":"F"},{"d":41,"y":2013,"s":"F"},{"d":42,"y":2013,"s":"F"},{"d":43,"y":2013,"s":"F"},{"d":44,"y":2013,"s":"F"},{"d":67,"y":2013,"s":"F"},{"d":74,"y":2013,"s":"F"},{"d":75,"y":2013,"s":"F"},{"d":76,"y":2013,"s":"F"},{"d":77,"y":2013,"s":"F"},{"d":81,"y":2013,"s":"F"},{"d":100,"y":2013,"s":"F"},{"d":101,"y":2013,"s":"F"},{"d":102,"y":2013,"s":"F"},{"d":103,"y":2013,"s":"F"},{"d":134,"y":2013,"s":"F"},{"d":135,"y":2013,"s":"F"},{"d":144,"y":2013,"s":"F"},{"d":147,"y":2013,"s":"F"},{"d":148,"y":2013,"s":"F"},{"d":149,"y":2013,"s":"F"},{"d":166,"y":2013,"s":"F"},{"d":205,"y":2013,"s":"F"},{"d":209,"y":2013,"s":"F"},{"d":210,"y":2013,"s":"F"},{"d":211,"y":2013,"s":"F"},{"d":218,"y":2013,"s":"F"},{"d":219,"y":2013,"s":"F"},{"d":237,"y":2013,"s":"F"},{"d":238,"y":2013,"s":"F"},{"d":239,"y":2013,"s":"F"},{"d":252,"y":2013,"s":"F"},{"d":256,"y":2013,"s":"F"},{"d":257,"y":2013,"s":"F"},{"d":258,"y":2013,"s":"F"},{"d":259,"y":2013,"s":"F"},{"d":260,"y":2013,"s":"F"},{"d":261,"y":2013,"s":"F"},{"d":262,"y":2013,"s":"F"},{"d":285,"y":2013,"s":"F"},{"d":286,"y":2013,"s":"F"},{"d":287,"y":2013,"s":"F"},{"d":292,"y":2013,"s":"F"},{"d":293,"y":2013,"s":"F"},{"d":294,"y":2013,"s":"F"},{"d":295,"y":2013,"s":"F"},{"d":296,"y":2013,"s":"F"},{"d":297,"y":2013,"s":"F"},{"d":300,"y":2013,"s":"F"},{"d":301,"y":2013,"s":"F"},{"d":302,"y":2013,"s":"F"},{"d":303,"y":2013,"s":"F"},{"d":304,"y":2013,"s":"F"},{"d":307,"y":2013,"s":"F"},{"d":308,"y":2013,"s":"F"},{"d":309,"y":2013,"s":"F"},{"d":310,"y":2013,"s":"F"},{"d":311,"y":2013,"s":"F"},{"d":312,"y":2013,"s":"F"},{"d":313,"y":2013,"s":"F"},{"d":314,"y":2013,"s":"F"},{"d":324,"y":2013,"s":"F"},{"d":349,"y":2013,"s":"F"},{"d":350,"y":2013,"s":"F"},{"d":351,"y":2013,"s":"F"},{"d":352,"y":2013,"s":"F"},{"d":353,"y":2013,"s":"F"},{"d":354,"y":2013,"s":"F"},{"d":355,"y":2013,"s":"F"},{"d":356,"y":2013,"s":"F"},{"d":357,"y":2013,"s":"F"},{"d":358,"y":2013,"s":"F"},{"d":359,"y":2013,"s":"F"},{"d":360,"y":2013,"s":"F"},{"d":361,"y":2013,"s":"F"},{"d":362,"y":2013,"s":"F"},{"d":363,"y":2013,"s":"F"},{"d":364,"y":2013,"s":"F"},{"d":365,"y":2013,"s":"F"},
{"d":1,"y":2012,"s":"F"},{"d":2,"y":2012,"s":"F"},{"d":4,"y":2012,"s":"F"},{"d":5,"y":2012,"s":"F"},{"d":24,"y":2012,"s":"F"},{"d":35,"y":2012,"s":"F"},{"d":36,"y":2012,"s":"F"},{"d":64,"y":2012,"s":"F"},{"d":100,"y":2012,"s":"F"},{"d":109,"y":2012,"s":"F"},{"d":110,"y":2012,"s":"F"},{"d":111,"y":2012,"s":"F"},{"d":114,"y":2012,"s":"F"},{"d":115,"y":2012,"s":"F"},{"d":116,"y":2012,"s":"F"},{"d":117,"y":2012,"s":"F"},{"d":118,"y":2012,"s":"F"},{"d":119,"y":2012,"s":"F"},{"d":120,"y":2012,"s":"F"},{"d":121,"y":2012,"s":"F"},{"d":122,"y":2012,"s":"F"},{"d":123,"y":2012,"s":"F"},{"d":124,"y":2012,"s":"F"},{"d":125,"y":2012,"s":"F"},{"d":126,"y":2012,"s":"F"},{"d":127,"y":2012,"s":"F"},{"d":131,"y":2012,"s":"F"},{"d":154,"y":2012,"s":"F"},{"d":155,"y":2012,"s":"F"},{"d":156,"y":2012,"s":"F"},{"d":157,"y":2012,"s":"F"},{"d":158,"y":2012,"s":"F"},{"d":159,"y":2012,"s":"F"},{"d":160,"y":2012,"s":"F"},{"d":161,"y":2012,"s":"F"},{"d":162,"y":2012,"s":"F"},{"d":163,"y":2012,"s":"F"},{"d":164,"y":2012,"s":"F"},{"d":165,"y":2012,"s":"F"},{"d":166,"y":2012,"s":"F"},{"d":167,"y":2012,"s":"F"},{"d":168,"y":2012,"s":"F"},{"d":169,"y":2012,"s":"F"},{"d":170,"y":2012,"s":"F"},{"d":171,"y":2012,"s":"F"},{"d":172,"y":2012,"s":"F"},{"d":173,"y":2012,"s":"F"},{"d":174,"y":2012,"s":"F"},{"d":175,"y":2012,"s":"F"},{"d":185,"y":2012,"s":"F"},{"d":189,"y":2012,"s":"F"},{"d":190,"y":2012,"s":"F"},{"d":191,"y":2012,"s":"F"},{"d":192,"y":2012,"s":"F"},{"d":193,"y":2012,"s":"F"},{"d":194,"y":2012,"s":"F"},{"d":195,"y":2012,"s":"F"},{"d":196,"y":2012,"s":"F"},{"d":197,"y":2012,"s":"F"},{"d":239,"y":2012,"s":"F"},{"d":240,"y":2012,"s":"F"},{"d":267,"y":2012,"s":"F"},{"d":268,"y":2012,"s":"F"},{"d":269,"y":2012,"s":"F"},{"d":270,"y":2012,"s":"F"},{"d":271,"y":2012,"s":"F"},{"d":272,"y":2012,"s":"F"},{"d":273,"y":2012,"s":"F"},{"d":274,"y":2012,"s":"F"},{"d":278,"y":2012,"s":"F"},{"d":279,"y":2012,"s":"F"},{"d":280,"y":2012,"s":"F"},{"d":281,"y":2012,"s":"F"},{"d":282,"y":2012,"s":"F"},{"d":285,"y":2012,"s":"F"},{"d":290,"y":2012,"s":"F"},{"d":291,"y":2012,"s":"F"},{"d":294,"y":2012,"s":"F"},{"d":295,"y":2012,"s":"F"},{"d":305,"y":2012,"s":"F"},{"d":306,"y":2012,"s":"F"},{"d":307,"y":2012,"s":"F"},{"d":308,"y":2012,"s":"F"},{"d":309,"y":2012,"s":"F"},{"d":310,"y":2012,"s":"F"},{"d":325,"y":2012,"s":"F"},{"d":326,"y":2012,"s":"F"},{"d":327,"y":2012,"s":"F"},{"d":328,"y":2012,"s":"F"},{"d":329,"y":2012,"s":"F"},{"d":330,"y":2012,"s":"F"},{"d":331,"y":2012,"s":"F"},{"d":332,"y":2012,"s":"F"},{"d":333,"y":2012,"s":"F"},{"d":334,"y":2012,"s":"F"},{"d":337,"y":2012,"s":"F"},{"d":349,"y":2012,"s":"F"},{"d":354,"y":2012,"s":"F"},{"d":355,"y":2012,"s":"F"},{"d":356,"y":2012,"s":"F"},{"d":357,"y":2012,"s":"F"},{"d":358,"y":2012,"s":"F"},{"d":359,"y":2012,"s":"F"},{"d":360,"y":2012,"s":"F"},{"d":361,"y":2012,"s":"F"},{"d":362,"y":2012,"s":"F"},{"d":363,"y":2012,"s":"F"},{"d":364,"y":2012,"s":"F"},{"d":365,"y":2012,"s":"F"},
{"d":6,"y":2011,"s":"F"},{"d":7,"y":2011,"s":"F"},{"d":8,"y":2011,"s":"F"},{"d":9,"y":2011,"s":"F"},{"d":10,"y":2011,"s":"F"},{"d":11,"y":2011,"s":"F"},{"d":12,"y":2011,"s":"F"},{"d":13,"y":2011,"s":"F"},{"d":14,"y":2011,"s":"F"},{"d":15,"y":2011,"s":"F"},{"d":16,"y":2011,"s":"F"},{"d":17,"y":2011,"s":"F"},{"d":18,"y":2011,"s":"F"},{"d":19,"y":2011,"s":"F"},{"d":20,"y":2011,"s":"F"},{"d":42,"y":2011,"s":"F"},{"d":43,"y":2011,"s":"F"},{"d":49,"y":2011,"s":"F"},{"d":50,"y":2011,"s":"F"},{"d":89,"y":2011,"s":"F"},{"d":127,"y":2011,"s":"F"},{"d":147,"y":2011,"s":"F"},{"d":148,"y":2011,"s":"F"},{"d":156,"y":2011,"s":"F"},{"d":157,"y":2011,"s":"F"},{"d":158,"y":2011,"s":"F"},{"d":159,"y":2011,"s":"F"},{"d":160,"y":2011,"s":"F"},{"d":161,"y":2011,"s":"F"},{"d":167,"y":2011,"s":"F"},{"d":168,"y":2011,"s":"F"},{"d":169,"y":2011,"s":"F"},{"d":172,"y":2011,"s":"F"},{"d":175,"y":2011,"s":"F"},{"d":179,"y":2011,"s":"F"},{"d":180,"y":2011,"s":"F"},{"d":186,"y":2011,"s":"F"},{"d":197,"y":2011,"s":"F"},{"d":198,"y":2011,"s":"F"},{"d":199,"y":2011,"s":"F"},{"d":200,"y":2011,"s":"F"},{"d":201,"y":2011,"s":"F"},{"d":216,"y":2011,"s":"F"},{"d":219,"y":2011,"s":"F"},{"d":230,"y":2011,"s":"F"},{"d":231,"y":2011,"s":"F"},{"d":232,"y":2011,"s":"F"},{"d":233,"y":2011,"s":"F"},{"d":237,"y":2011,"s":"F"},{"d":238,"y":2011,"s":"F"},{"d":239,"y":2011,"s":"F"},{"d":240,"y":2011,"s":"F"},{"d":247,"y":2011,"s":"F"},{"d":249,"y":2011,"s":"F"},{"d":307,"y":2011,"s":"F"},{"d":308,"y":2011,"s":"F"},{"d":309,"y":2011,"s":"F"},{"d":310,"y":2011,"s":"F"},{"d":345,"y":2011,"s":"F"},{"d":346,"y":2011,"s":"F"},{"d":347,"y":2011,"s":"F"},{"d":348,"y":2011,"s":"F"},{"d":349,"y":2011,"s":"F"},{"d":350,"y":2011,"s":"F"},{"d":351,"y":2011,"s":"F"},
{"d":13,"y":2010,"s":"F"},{"d":16,"y":2010,"s":"F"},{"d":22,"y":2010,"s":"F"},{"d":28,"y":2010,"s":"F"},{"d":46,"y":2010,"s":"F"},{"d":47,"y":2010,"s":"F"},{"d":48,"y":2010,"s":"F"},{"d":49,"y":2010,"s":"F"},{"d":50,"y":2010,"s":"F"},{"d":51,"y":2010,"s":"F"},{"d":52,"y":2010,"s":"F"},{"d":53,"y":2010,"s":"F"},{"d":54,"y":2010,"s":"F"},{"d":55,"y":2010,"s":"F"},{"d":56,"y":2010,"s":"F"},{"d":57,"y":2010,"s":"F"},{"d":58,"y":2010,"s":"F"},{"d":59,"y":2010,"s":"F"},{"d":60,"y":2010,"s":"F"},{"d":78,"y":2010,"s":"F"},{"d":92,"y":2010,"s":"F"},{"d":121,"y":2010,"s":"F"},{"d":122,"y":2010,"s":"F"},{"d":123,"y":2010,"s":"F"},{"d":124,"y":2010,"s":"F"},{"d":136,"y":2010,"s":"F"},{"d":158,"y":2010,"s":"F"},{"d":195,"y":2010,"s":"F"},{"d":216,"y":2010,"s":"F"},{"d":222,"y":2010,"s":"F"},{"d":226,"y":2010,"s":"F"},{"d":229,"y":2010,"s":"F"},{"d":230,"y":2010,"s":"F"},{"d":234,"y":2010,"s":"F"},{"d":235,"y":2010,"s":"F"},{"d":236,"y":2010,"s":"F"},{"d":237,"y":2010,"s":"F"},{"d":238,"y":2010,"s":"F"},{"d":239,"y":2010,"s":"F"},{"d":240,"y":2010,"s":"F"},{"d":241,"y":2010,"s":"F"},{"d":242,"y":2010,"s":"F"},{"d":243,"y":2010,"s":"F"},{"d":244,"y":2010,"s":"F"},{"d":250,"y":2010,"s":"F"},{"d":251,"y":2010,"s":"F"},{"d":266,"y":2010,"s":"F"},{"d":272,"y":2010,"s":"F"},{"d":273,"y":2010,"s":"F"},{"d":274,"y":2010,"s":"F"},{"d":275,"y":2010,"s":"F"},{"d":276,"y":2010,"s":"F"},{"d":277,"y":2010,"s":"F"},{"d":278,"y":2010,"s":"F"},{"d":279,"y":2010,"s":"F"},{"d":280,"y":2010,"s":"F"},{"d":281,"y":2010,"s":"F"},{"d":282,"y":2010,"s":"F"},{"d":292,"y":2010,"s":"F"},{"d":295,"y":2010,"s":"F"},{"d":299,"y":2010,"s":"F"},{"d":309,"y":2010,"s":"F"},{"d":352,"y":2010,"s":"F"},{"d":361,"y":2010,"s":"F"},
{"d":17,"y":2009,"s":"F"},{"d":18,"y":2009,"s":"F"},{"d":19,"y":2009,"s":"F"},{"d":20,"y":2009,"s":"F"},{"d":21,"y":2009,"s":"F"},{"d":22,"y":2009,"s":"F"},{"d":23,"y":2009,"s":"F"},{"d":24,"y":2009,"s":"F"},{"d":25,"y":2009,"s":"F"},{"d":32,"y":2009,"s":"F"},{"d":36,"y":2009,"s":"F"},{"d":37,"y":2009,"s":"F"},{"d":40,"y":2009,"s":"F"},{"d":41,"y":2009,"s":"F"},{"d":42,"y":2009,"s":"F"},{"d":43,"y":2009,"s":"F"},{"d":44,"y":2009,"s":"F"},{"d":45,"y":2009,"s":"F"},{"d":62,"y":2009,"s":"F"},{"d":63,"y":2009,"s":"F"},{"d":100,"y":2009,"s":"F"},{"d":106,"y":2009,"s":"F"},{"d":117,"y":2009,"s":"F"},{"d":134,"y":2009,"s":"F"},{"d":145,"y":2009,"s":"F"},{"d":146,"y":2009,"s":"F"},{"d":157,"y":2009,"s":"F"},{"d":158,"y":2009,"s":"F"},{"d":159,"y":2009,"s":"F"},{"d":160,"y":2009,"s":"F"},{"d":161,"y":2009,"s":"F"},{"d":178,"y":2009,"s":"F"},{"d":179,"y":2009,"s":"F"},{"d":183,"y":2009,"s":"F"},{"d":188,"y":2009,"s":"F"},{"d":189,"y":2009,"s":"F"},{"d":192,"y":2009,"s":"F"},{"d":198,"y":2009,"s":"F"},{"d":206,"y":2009,"s":"F"},{"d":207,"y":2009,"s":"F"},{"d":218,"y":2009,"s":"F"},{"d":219,"y":2009,"s":"F"},{"d":220,"y":2009,"s":"F"},{"d":221,"y":2009,"s":"F"},{"d":222,"y":2009,"s":"F"},{"d":246,"y":2009,"s":"F"},{"d":247,"y":2009,"s":"F"},{"d":259,"y":2009,"s":"F"},{"d":260,"y":2009,"s":"F"},{"d":279,"y":2009,"s":"F"},{"d":280,"y":2009,"s":"F"},{"d":306,"y":2009,"s":"F"},{"d":307,"y":2009,"s":"F"},{"d":308,"y":2009,"s":"F"},{"d":310,"y":2009,"s":"F"},{"d":317,"y":2009,"s":"F"},{"d":318,"y":2009,"s":"F"},{"d":319,"y":2009,"s":"F"},{"d":320,"y":2009,"s":"F"},{"d":321,"y":2009,"s":"F"},{"d":322,"y":2009,"s":"F"},{"d":323,"y":2009,"s":"F"},{"d":324,"y":2009,"s":"F"},{"d":325,"y":2009,"s":"F"},{"d":326,"y":2009,"s":"F"},{"d":327,"y":2009,"s":"F"},{"d":328,"y":2009,"s":"F"},{"d":329,"y":2009,"s":"F"},{"d":330,"y":2009,"s":"F"},{"d":331,"y":2009,"s":"F"},{"d":332,"y":2009,"s":"F"},{"d":333,"y":2009,"s":"F"},{"d":334,"y":2009,"s":"F"},{"d":335,"y":2009,"s":"F"},{"d":336,"y":2009,"s":"F"},{"d":337,"y":2009,"s":"F"},{"d":338,"y":2009,"s":"F"},{"d":339,"y":2009,"s":"F"},{"d":340,"y":2009,"s":"F"},{"d":341,"y":2009,"s":"F"},{"d":342,"y":2009,"s":"F"},{"d":343,"y":2009,"s":"F"},{"d":344,"y":2009,"s":"F"},{"d":345,"y":2009,"s":"F"},{"d":346,"y":2009,"s":"F"},{"d":355,"y":2009,"s":"F"},{"d":357,"y":2009,"s":"F"},{"d":363,"y":2009,"s":"F"},{"d":364,"y":2009,"s":"F"},{"d":365,"y":2009,"s":"F"}
]},
"mark":{"type":"point","shape":"diamond","filled":true,"size":115,"opacity":1},
"encoding":{
"x":{"field":"d","type":"quantitative","title":"Days","scale":{"domain":[0,365],"nice":false,"zero":false},"axis":{"values":[0,31,62,93,124,155,186,217,248,279,310,341],"grid":true,"gridColor":"#D9D9D9","gridWidth":1.8,"domainColor":"#BFBFBF","domainWidth":1.8,"ticks":false,"labelFlush":false,"labelFont":"Open Sans","labelFontSize":19,"labelColor":"#595959","labelPadding":16,"titleFont":"Open Sans","titleFontSize":18,"titleFontWeight":"normal","titleColor":"#595959","titlePadding":13}},
"y":{"field":"y","type":"quantitative","title":"Years","scale":{"domain":[2008,2018],"nice":false,"zero":false},"axis":{"values":[2008,2009,2010,2011,2012,2013,2014,2015,2016,2017,2018],"format":"d","grid":true,"gridColor":"#D9D9D9","gridWidth":1.8,"domainColor":"#BFBFBF","domainWidth":1.8,"ticks":false,"labelFont":"Open Sans","labelFontSize":19,"labelColor":"#595959","labelPadding":18,"titleFont":"Open Sans","titleFontSize":18,"titleFontWeight":"normal","titleColor":"#595959","titlePadding":9}},
"color":{"field":"s","type":"nominal","scale":{"domain":["P","F"],"range":["#F79646","#4BACC6"]},"legend":{"title":null,"orient":"none","legendX":1026,"legendY":737,"symbolType":"circle","symbolSize":60,"symbolOpacity":1,"labelFont":"Open Sans","labelFontSize":11.7,"labelColor":"#595959","rowPadding":13.5,"labelOffset":1,"labelExpr":"datum.value == 'P' ? 'Demand partially met' : 'Demand fully met'"}}
}},
{"data":{"values":[{"a":-38.8,"b":2019.36,"c":2006.14},{"a":418.6,"b":2019.36,"c":2006.14}]},"mark":{"type":"rule","color":"#F8CBAD","strokeWidth":1.5},"encoding":{"x":{"field":"a","type":"quantitative","title":"Days"},"y":{"field":"b","type":"quantitative","title":"Years"},"y2":{"field":"c"}}},
{"data":{"values":[{"a":-38.8,"a2":418.6,"b":2019.33}]},"mark":{"type":"rule","color":"#F8CBAD","strokeWidth":1.5},"encoding":{"x":{"field":"a","type":"quantitative","title":"Days"},"x2":{"field":"a2"},"y":{"field":"b","type":"quantitative","title":"Years"}}}
]}
